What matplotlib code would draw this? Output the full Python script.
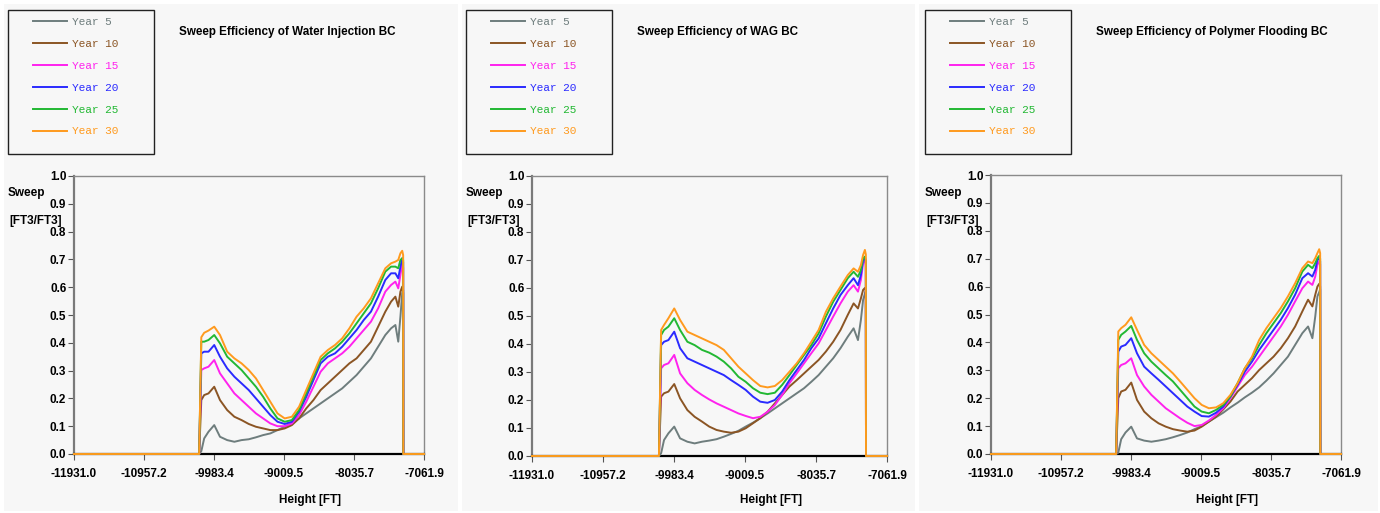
import numpy as np
import matplotlib.pyplot as plt
from matplotlib.patches import Rectangle

# shared height axis (FT)
height = [-11931.0, -10190, -10160, -10120, -10060, -9980, -9900,
          -9800, -9700, -9600, -9500, -9400, -9300, -9200, -9100, -9000,
          -8900, -8800, -8700, -8600, -8500, -8400, -8300, -8200, -8100,
          -8000, -7900, -7800, -7700, -7600,
          -7520, -7460, -7420, -7390, -7365, -7352, -7350, -7061.9]

# Water injection
water_y5 = [0, 0, 0.010, 0.056, 0.080, 0.104, 0.062,
            0.050, 0.044, 0.050, 0.053, 0.060, 0.068, 0.074, 0.086, 0.098, 0.110, 0.128, 0.146,
            0.164, 0.182, 0.200, 0.218, 0.236, 0.260, 0.284, 0.314, 0.344, 0.386, 0.428,
            0.452, 0.464, 0.404, 0.494, 0.578, 0.590, 0, 0]
water_y10 = [0, 0, 0.194, 0.212, 0.218, 0.242, 0.194,
             0.158, 0.134, 0.122, 0.108, 0.098, 0.092, 0.086, 0.086, 0.092, 0.104, 0.128, 0.164,
             0.194, 0.230, 0.254, 0.278, 0.302, 0.326, 0.344, 0.374, 0.404, 0.458, 0.512,
             0.548, 0.566, 0.530, 0.584, 0.602, 0.580, 0, 0]
water_y15 = [0, 0, 0.302, 0.308, 0.314, 0.338, 0.290,
             0.254, 0.218, 0.194, 0.170, 0.146, 0.128, 0.110, 0.100, 0.100, 0.110, 0.140, 0.188,
             0.242, 0.296, 0.326, 0.344, 0.362, 0.386, 0.416, 0.446, 0.476, 0.524, 0.584,
             0.608, 0.620, 0.596, 0.644, 0.686, 0.670, 0, 0]
water_y20 = [0, 0, 0.362, 0.368, 0.368, 0.392, 0.350,
             0.308, 0.278, 0.254, 0.230, 0.200, 0.170, 0.140, 0.116, 0.108, 0.116, 0.152, 0.206,
             0.266, 0.326, 0.350, 0.362, 0.386, 0.416, 0.446, 0.482, 0.512, 0.566, 0.626,
             0.650, 0.650, 0.632, 0.674, 0.704, 0.690, 0, 0]
water_y25 = [0, 0, 0.404, 0.404, 0.410, 0.428, 0.398,
             0.350, 0.326, 0.302, 0.272, 0.242, 0.206, 0.164, 0.128, 0.116, 0.122, 0.158, 0.218,
             0.278, 0.338, 0.362, 0.380, 0.404, 0.434, 0.470, 0.506, 0.542, 0.596, 0.656,
             0.674, 0.674, 0.668, 0.698, 0.704, 0.698, 0, 0]
water_y30 = [0, 0, 0.420, 0.436, 0.444, 0.458, 0.428,
             0.368, 0.344, 0.326, 0.302, 0.272, 0.230, 0.188, 0.146, 0.128, 0.134, 0.170, 0.230,
             0.290, 0.350, 0.374, 0.392, 0.416, 0.452, 0.494, 0.524, 0.560, 0.614, 0.668,
             0.686, 0.692, 0.698, 0.722, 0.731, 0.716, 0, 0]

# WAG
wag_y5 = [0, 0, 0.010, 0.057, 0.081, 0.105, 0.063,
          0.051, 0.045, 0.051, 0.055, 0.060, 0.069, 0.079, 0.090, 0.105, 0.119, 0.135, 0.152,
          0.170, 0.188, 0.206, 0.224, 0.242, 0.265, 0.289, 0.319, 0.349, 0.385, 0.426,
          0.456, 0.414, 0.486, 0.557, 0.580, 0.590, 0, 0]
wag_y10 = [0, 0, 0.212, 0.224, 0.230, 0.257, 0.206,
           0.164, 0.140, 0.123, 0.105, 0.093, 0.087, 0.083, 0.087, 0.099, 0.117, 0.135, 0.158,
           0.188, 0.218, 0.248, 0.271, 0.295, 0.319, 0.343, 0.373, 0.408, 0.450, 0.504,
           0.545, 0.527, 0.563, 0.593, 0.600, 0.590, 0, 0]
wag_y15 = [0, 0, 0.313, 0.325, 0.331, 0.361, 0.295,
           0.260, 0.236, 0.218, 0.202, 0.188, 0.176, 0.164, 0.152, 0.143, 0.135, 0.140, 0.158,
           0.182, 0.218, 0.260, 0.295, 0.331, 0.367, 0.402, 0.450, 0.498, 0.545, 0.587,
           0.610, 0.587, 0.629, 0.688, 0.700, 0.680, 0, 0]
wag_y20 = [0, 0, 0.396, 0.408, 0.414, 0.444, 0.385,
           0.349, 0.337, 0.325, 0.313, 0.301, 0.289, 0.271, 0.254, 0.236, 0.212, 0.194, 0.190,
           0.200, 0.230, 0.271, 0.307, 0.343, 0.385, 0.420, 0.474, 0.527, 0.575, 0.610,
           0.635, 0.610, 0.646, 0.700, 0.706, 0.690, 0, 0]
wag_y25 = [0, 0, 0.432, 0.450, 0.462, 0.492, 0.450,
           0.408, 0.396, 0.379, 0.369, 0.355, 0.337, 0.313, 0.283, 0.265, 0.242, 0.226, 0.221,
           0.226, 0.254, 0.289, 0.325, 0.361, 0.396, 0.438, 0.498, 0.551, 0.593, 0.635,
           0.658, 0.640, 0.664, 0.706, 0.712, 0.700, 0, 0]
wag_y30 = [0, 0, 0.450, 0.468, 0.492, 0.527, 0.486,
           0.444, 0.432, 0.420, 0.408, 0.396, 0.379, 0.349, 0.319, 0.295, 0.271, 0.250, 0.245,
           0.250, 0.271, 0.301, 0.331, 0.367, 0.408, 0.450, 0.515, 0.563, 0.605, 0.646,
           0.670, 0.658, 0.682, 0.718, 0.736, 0.720, 0, 0]

# Polymer flooding
poly_y5 = [0, 0, 0.005, 0.053, 0.077, 0.098, 0.056,
           0.048, 0.044, 0.048, 0.053, 0.060, 0.068, 0.077, 0.089, 0.100, 0.116, 0.132, 0.148,
           0.167, 0.184, 0.203, 0.220, 0.239, 0.263, 0.289, 0.319, 0.349, 0.391, 0.433,
           0.457, 0.415, 0.493, 0.565, 0.580, 0.590, 0, 0]
poly_y10 = [0, 0, 0.200, 0.224, 0.230, 0.256, 0.194,
            0.152, 0.128, 0.110, 0.098, 0.089, 0.084, 0.080, 0.084, 0.098, 0.116, 0.134, 0.160,
            0.188, 0.224, 0.248, 0.272, 0.301, 0.325, 0.349, 0.379, 0.415, 0.457, 0.511,
            0.553, 0.529, 0.571, 0.600, 0.610, 0.600, 0, 0]
poly_y15 = [0, 0, 0.307, 0.319, 0.325, 0.343, 0.283,
            0.242, 0.212, 0.188, 0.164, 0.146, 0.128, 0.112, 0.100, 0.104, 0.120, 0.140, 0.164,
            0.200, 0.242, 0.283, 0.313, 0.349, 0.385, 0.421, 0.457, 0.499, 0.547, 0.594,
            0.618, 0.606, 0.636, 0.678, 0.690, 0.680, 0, 0]
poly_y20 = [0, 0, 0.367, 0.385, 0.391, 0.415, 0.361,
            0.313, 0.289, 0.266, 0.242, 0.218, 0.194, 0.170, 0.152, 0.136, 0.134, 0.148, 0.170,
            0.206, 0.248, 0.295, 0.331, 0.373, 0.409, 0.445, 0.481, 0.523, 0.571, 0.630,
            0.648, 0.636, 0.660, 0.696, 0.700, 0.690, 0, 0]
poly_y25 = [0, 0, 0.409, 0.427, 0.439, 0.459, 0.409,
            0.361, 0.331, 0.307, 0.283, 0.260, 0.230, 0.200, 0.170, 0.152, 0.146, 0.158, 0.176,
            0.206, 0.254, 0.307, 0.343, 0.391, 0.433, 0.469, 0.505, 0.547, 0.594, 0.654,
            0.678, 0.666, 0.684, 0.702, 0.710, 0.700, 0, 0]
poly_y30 = [0, 0, 0.439, 0.451, 0.463, 0.490, 0.445,
            0.391, 0.361, 0.337, 0.313, 0.289, 0.260, 0.230, 0.200, 0.176, 0.164, 0.167, 0.182,
            0.212, 0.254, 0.307, 0.349, 0.409, 0.451, 0.487, 0.523, 0.565, 0.612, 0.666,
            0.690, 0.684, 0.702, 0.720, 0.734, 0.720, 0, 0]

year_labels = ["Year 5", "Year 10", "Year 15", "Year 20", "Year 25", "Year 30"]
year_colors = ["#6e7d7d", "#8b5524", "#ff22ee", "#2a2aff", "#22b833", "#ff9a1e"]

titles = ["Sweep Efficiency of Water Injection BC",
          "Sweep Efficiency of WAG BC",
          "Sweep Efficiency of Polymer Flooding BC"]
series = [[water_y5, water_y10, water_y15, water_y20, water_y25, water_y30],
          [wag_y5, wag_y10, wag_y15, wag_y20, wag_y25, wag_y30],
          [poly_y5, poly_y10, poly_y15, poly_y20, poly_y25, poly_y30]]

xticks = [-11931.0, -10957.2, -9983.4, -9009.5, -8035.7, -7061.9]
xtick_labels = ["-11931.0", "-10957.2", "-9983.4", "-9009.5", "-8035.7", "-7061.9"]
yticks = [0.0, 0.1, 0.2, 0.3, 0.4, 0.5, 0.6, 0.7, 0.8, 0.9, 1.0]

W, H = 1380, 513
fig = plt.figure(figsize=(W / 100, H / 100), dpi=100, facecolor="white")


def fx(px):
    return px / W


def fy(py):
    return 1 - py / H


# panel backgrounds (left, right) in pixels
panels = [(4, 458), (462, 915), (919, 1378)]
# axes boxes: left, right, top, bottom in pixels
boxes = [(74, 424, 176, 454), (532, 887, 176, 456), (991, 1341, 175, 454)]

label_font = {"family": "Liberation Sans", "weight": "bold", "size": 8.5}

for i in range(3):
    p0, p1 = panels[i]
    fig.add_artist(Rectangle((fx(p0), fy(511)), fx(p1 - p0), (511 - 4) / H,
                             transform=fig.transFigure, facecolor="#f7f7f7",
                             edgecolor="none", zorder=-10))

    l, r, t, b = boxes[i]
    ax = fig.add_axes([fx(l), fy(b), fx(r - l), (b - t) / H])
    ax.set_facecolor("none")

    for vals, lab, col in zip(series[i], year_labels, year_colors):
        ax.plot(height, vals, color=col, lw=1.4, label=lab, clip_on=False, zorder=3)

    ax.set_xlim(-11931.0, -7061.9)
    ax.set_ylim(0, 1)
    ax.set_xticks(xticks)
    ax.set_xticklabels(xtick_labels, fontdict=label_font)
    ax.set_yticks(yticks)
    ax.set_yticklabels(["%.1f" % v for v in yticks], fontdict=label_font)
    ax.tick_params(axis="x", direction="out", length=4, color="#555555", pad=6)
    ax.tick_params(axis="y", direction="out", length=4, color="#555555", pad=1.5)

    for side in ["top", "right"]:
        ax.spines[side].set_color("#8a8a8a")
        ax.spines[side].set_linewidth(1.0)
    ax.spines["left"].set_color("#7a7a7a")
    ax.spines["left"].set_linewidth(1.6)
    ax.spines["bottom"].set_color("black")
    ax.spines["bottom"].set_linewidth(1.6)

    # axis captions
    fig.text(fx(l - 66), fy(193), "Sweep", ha="left", va="center", fontdict=label_font)
    fig.text(fx(l - 65), fy(221), "[FT3/FT3]", ha="left", va="center", fontdict=label_font)
    fig.text(fx((l + r) / 2 + 61), fy(500), "Height [FT]", ha="center", va="center",
             fontdict=label_font)
    fig.text(fx(l + 105), fy(32), titles[i], ha="left", va="center",
             family="Liberation Sans", weight="bold", size=8.4)

    # legend box
    bx = l - 66
    fig.add_artist(Rectangle((fx(bx), fy(154)), fx(146), 144 / H,
                             transform=fig.transFigure, facecolor="none",
                             edgecolor="#222222", lw=1.0, zorder=1))
    leg = fig.legend(handles=ax.get_lines(), loc="upper left",
                     bbox_to_anchor=(fx(bx + 25), fy(17)), frameon=False,
                     prop={"family": "Liberation Mono", "size": 8},
                     handlelength=3.1, handletextpad=0.45, labelspacing=1.07,
                     borderpad=0, borderaxespad=0)
    for txt, col in zip(leg.get_texts(), year_colors):
        txt.set_color(col)

fig.savefig("out.png", dpi=100, facecolor=fig.get_facecolor())
